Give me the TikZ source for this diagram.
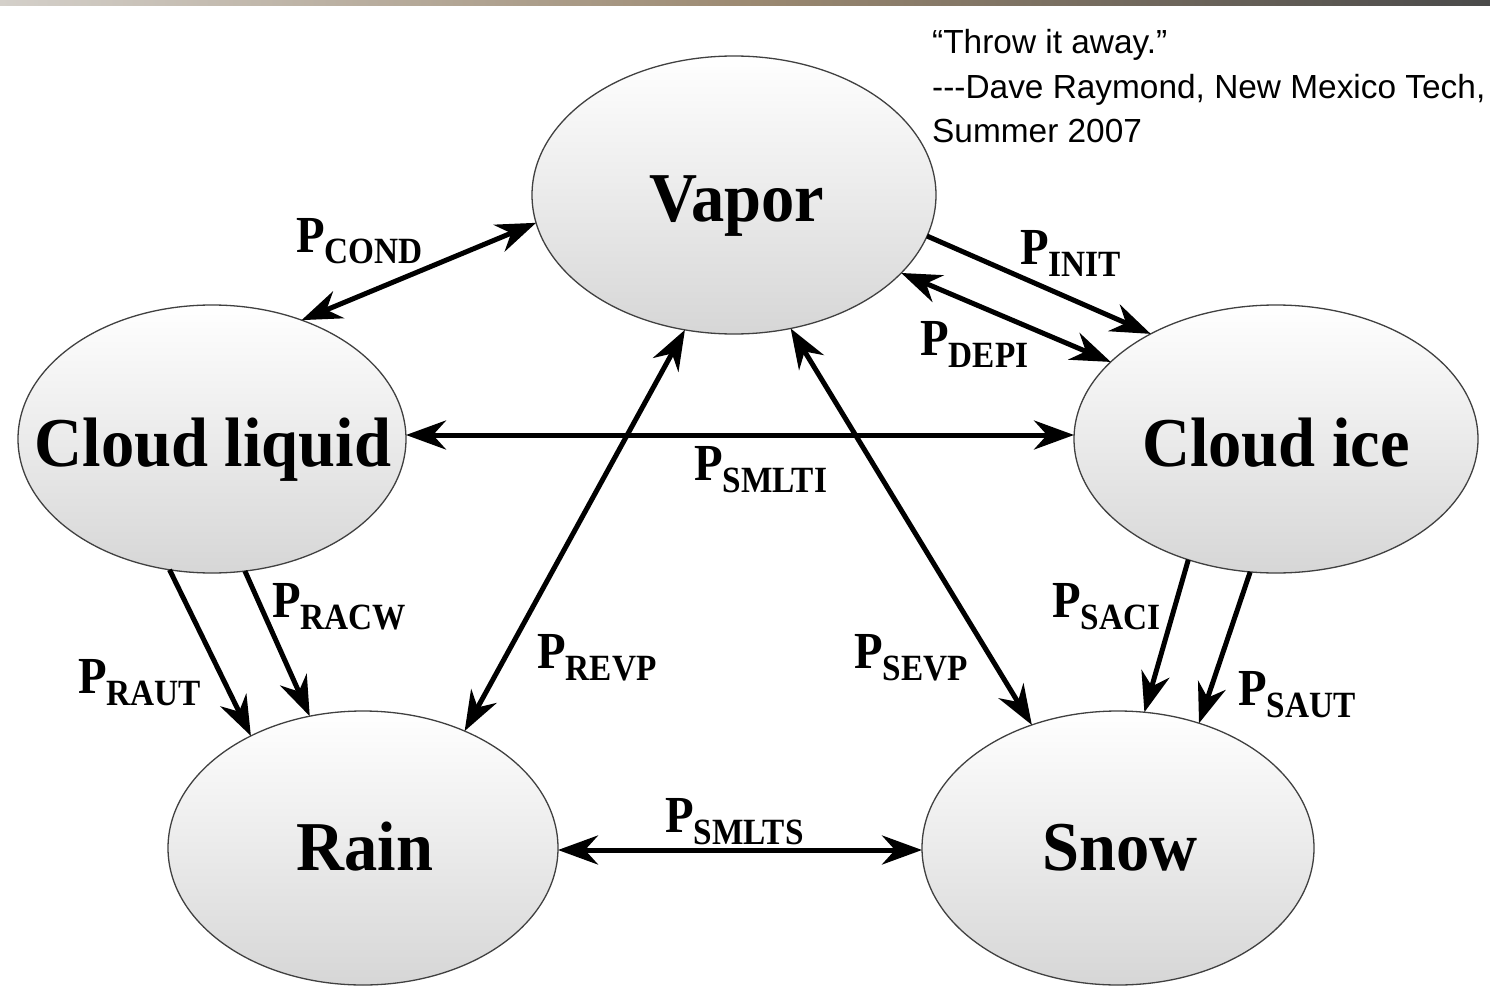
\documentclass[tikz,border=0pt]{standalone}
\usepackage{fontspec}
\usetikzlibrary{shapes.geometric,arrows.meta}
\newfontfamily\bigf{Liberation Serif}[FakeStretch=0.95]
\newfontfamily\lblf{Liberation Serif}[FakeStretch=0.9]
\newfontfamily\qf{Liberation Sans}
\newcommand{\Plab}[1]{{\lblf\bfseries\fontsize{52}{52}\selectfont P\raisebox{-12pt}{\fontsize{37}{37}\selectfont #1}}}
\definecolor{barL}{HTML}{D4D0CA}
\definecolor{barM}{HTML}{9C8A72}
\definecolor{barR}{HTML}{4A4A4A}
\begin{document}
\begin{tikzpicture}[x=1pt,y=-1pt,
  blob/.style={ellipse, draw=black!75, line width=1.3pt, top color=white, bottom color=black!16, inner sep=0pt, outer sep=0pt},
  btxt/.style={anchor=base, inner sep=0pt, font=\bigf\bfseries\fontsize{70}{70}\selectfont},
  plab/.style={anchor=base west, inner sep=0pt},
  qtxt/.style={anchor=base west, inner sep=0pt, font=\qf\fontsize{33.4}{33.4}\selectfont},
  tip/.tip={Stealth[length=40pt,width=29pt,inset=13pt]},
  arr/.style={line width=5pt, -tip},
  darr/.style={line width=5pt, tip-tip}]
\useasboundingbox (0,0) rectangle (1490,1008);
\fill[white] (0,0) rectangle (1490,1008);
\shade[left color=barL, right color=barR, middle color=barM] (0,0) rectangle (1490,6);

% ellipses
\node[blob, minimum width=404pt, minimum height=278pt] (vap) at (734,195) {};
\node[blob, minimum width=388pt, minimum height=268pt] (cl) at (212,439) {};
\node[blob, minimum width=404pt, minimum height=268pt] (ci) at (1276,439) {};
\node[blob, minimum width=390pt, minimum height=274pt] (rain) at (363,848) {};
\node[blob, minimum width=392pt, minimum height=274pt] (snow) at (1118,848) {};

\node[btxt] (vapT) at (737,222) {Vapor};
\node[btxt] (clT) at (213,466) {Cloud liquid};
\node[btxt] (ciT) at (1276,466) {Cloud ice};
\node[btxt] (rainT) at (365,870) {Rain};
\node[btxt] (snowT) at (1120,870) {Snow};

% connectors
\draw[darr] (cl.53) -- (vap.188);
\draw[arr] (vap.348) -- (ci.140);
\draw[darr] (vap.335) -- (ci.155);
\draw[darr] ([yshift=4pt]cl.east) -- ([yshift=4pt]ci.west);
\draw[darr] (rain.49) -- (vap.250.5);
\draw[darr] (vap.293) -- (snow.125.6);
\draw[arr] (cl.284.6) -- (rain.112);
\draw[arr] (cl.252.8) -- (rain.135.7);
\draw[arr] (ci.234.6) -- (snow.79.7);
\draw[arr] (ci.259) -- (snow.57);
\draw[darr] ([yshift=-2pt]rain.east) -- ([yshift=-2pt]snow.west);

% labels
\node[plab] (lcond) at (296,252) {\Plab{COND}};
\node[plab] (linit) at (1020,265) {\Plab{INIT}};
\node[plab] (ldepi) at (920,355) {\Plab{DEPI}};
\node[plab] (lsmlti) at (694,480) {\Plab{SMLTI}};
\node[plab] (lracw) at (272,617) {\Plab{RACW}};
\node[plab] (lraut) at (78,693) {\Plab{RAUT}};
\node[plab] (lrevp) at (537,668) {\Plab{REVP}};
\node[plab] (lsevp) at (854,668) {\Plab{SEVP}};
\node[plab] (lsaci) at (1052,617) {\Plab{SACI}};
\node[plab] (lsaut) at (1238,705) {\Plab{SAUT}};
\node[plab] (lsmlts) at (665,832) {\Plab{SMLTS}};

% quote
\node[qtxt] (q1) at (932,54) {“Throw it away.”};
\node[qtxt] (q2) at (932,99) {-{}-{}-Dave Raymond, New Mexico Tech,};
\node[qtxt] (q3) at (932,143) {Summer 2007};
\end{tikzpicture}
\end{document}
